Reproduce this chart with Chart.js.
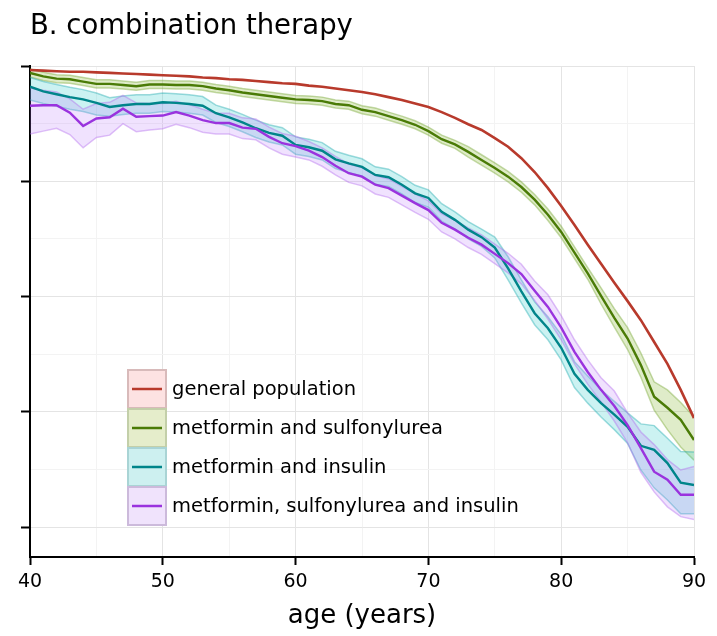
<!DOCTYPE html>
<html>
<head>
<meta charset="utf-8">
<title>combination therapy</title>
<script src="https://cdn.jsdelivr.net/npm/chart.js@4/dist/chart.umd.min.js"></script>
<style>
  html, body { margin: 0; padding: 0; background: #fff; }
  #wrap { width: 717px; height: 636px; }
</style>
</head>
<body>
<div id="wrap"><canvas id="c" width="717" height="636"></canvas></div>
<script>
// survival by age
const titleText = "B. combination therapy";
const xTitle = "age (years)";
const ages = [40,41,42,43,44,45,46,47,48,49,50,51,52,53,54,55,56,57,58,59,60,61,62,63,64,65,66,67,68,69,70,71,72,73,74,75,76,77,78,79,80,81,82,83,84,85,86,87,88,89,90];
const xTicks = [40,45,50,55,60,65,70,75,80,85,90];
const yTicks = [0.2,0.3,0.4,0.5,0.6,0.7,0.8,0.9,1.0];
const seriesNames = ["general population", "metformin and sulfonylurea", "metformin and insulin", "metformin, sulfonylurea and insulin"];

const generalPop = [0.993,0.992,0.991,0.990,0.990,0.989,0.988,0.987,0.986,0.985,0.984,0.983,0.982,0.980,0.979,0.977,0.976,0.974,0.972,0.970,0.969,0.966,0.964,0.961,0.958,0.955,0.951,0.946,0.941,0.935,0.929,0.920,0.910,0.899,0.889,0.875,0.860,0.840,0.816,0.788,0.757,0.724,0.690,0.657,0.624,0.592,0.559,0.521,0.483,0.438,0.389];

const metSulf = [0.988,0.982,0.978,0.977,0.973,0.969,0.969,0.967,0.965,0.968,0.968,0.967,0.967,0.965,0.961,0.958,0.954,0.951,0.948,0.945,0.942,0.941,0.939,0.934,0.932,0.924,0.920,0.913,0.906,0.898,0.887,0.873,0.864,0.851,0.837,0.823,0.808,0.790,0.768,0.742,0.712,0.676,0.640,0.601,0.563,0.527,0.481,0.426,0.407,0.386,0.351];
const metSulfHi = [0.007,0.007,0.007,0.007,0.007,0.007,0.007,0.007,0.007,0.007,0.007,0.007,0.007,0.007,0.007,0.007,0.007,0.007,0.007,0.007,0.007,0.007,0.007,0.007,0.007,0.007,0.007,0.007,0.007,0.007,0.007,0.007,0.007,0.009,0.009,0.009,0.009,0.009,0.009,0.010,0.010,0.010,0.010,0.014,0.016,0.019,0.021,0.026,0.031,0.030,0.040];
const metSulfLo = [0.007,0.007,0.007,0.007,0.007,0.007,0.007,0.007,0.007,0.007,0.007,0.007,0.007,0.007,0.007,0.007,0.007,0.007,0.007,0.007,0.007,0.007,0.007,0.007,0.007,0.007,0.007,0.007,0.007,0.007,0.007,0.007,0.007,0.009,0.009,0.009,0.009,0.009,0.009,0.010,0.010,0.010,0.010,0.014,0.016,0.019,0.021,0.023,0.038,0.047,0.035];

const metIns = [0.964,0.956,0.951,0.946,0.942,0.936,0.929,0.932,0.934,0.934,0.937,0.936,0.934,0.931,0.918,0.911,0.902,0.892,0.884,0.879,0.863,0.859,0.853,0.838,0.831,0.825,0.811,0.807,0.794,0.779,0.771,0.747,0.733,0.716,0.703,0.685,0.649,0.609,0.571,0.545,0.511,0.466,0.438,0.415,0.395,0.374,0.341,0.334,0.311,0.277,0.273];
const metInsHi = [0.016,0.017,0.017,0.017,0.017,0.017,0.016,0.016,0.016,0.016,0.016,0.016,0.016,0.016,0.014,0.014,0.014,0.014,0.014,0.014,0.014,0.014,0.014,0.014,0.014,0.014,0.014,0.014,0.014,0.014,0.014,0.014,0.014,0.014,0.014,0.018,0.020,0.020,0.020,0.020,0.023,0.021,0.024,0.023,0.023,0.024,0.038,0.042,0.043,0.054,0.057];
const metInsLo = [0.023,0.021,0.021,0.021,0.021,0.021,0.016,0.016,0.016,0.016,0.016,0.016,0.016,0.016,0.016,0.016,0.016,0.016,0.016,0.016,0.016,0.016,0.016,0.016,0.016,0.016,0.016,0.016,0.016,0.016,0.016,0.016,0.016,0.016,0.016,0.018,0.020,0.020,0.020,0.020,0.021,0.024,0.023,0.024,0.026,0.029,0.042,0.066,0.064,0.054,0.050];

const metSulfIns = [0.931,0.932,0.932,0.919,0.896,0.909,0.911,0.926,0.912,0.913,0.914,0.920,0.914,0.906,0.901,0.901,0.893,0.891,0.877,0.866,0.861,0.853,0.842,0.827,0.814,0.808,0.794,0.788,0.775,0.762,0.750,0.728,0.716,0.702,0.690,0.674,0.658,0.639,0.610,0.582,0.546,0.504,0.469,0.438,0.410,0.377,0.337,0.296,0.282,0.256,0.256];
const metSulfInsHi = [0.031,0.026,0.023,0.024,0.029,0.026,0.026,0.023,0.024,0.022,0.021,0.019,0.019,0.019,0.017,0.017,0.017,0.017,0.017,0.017,0.017,0.016,0.016,0.016,0.016,0.016,0.016,0.016,0.016,0.016,0.016,0.016,0.016,0.017,0.017,0.017,0.017,0.017,0.017,0.021,0.021,0.021,0.021,0.021,0.026,0.021,0.028,0.047,0.035,0.043,0.049];
const metSulfInsLo = [0.049,0.045,0.040,0.038,0.038,0.033,0.031,0.026,0.026,0.024,0.023,0.021,0.021,0.021,0.019,0.019,0.019,0.019,0.019,0.019,0.019,0.016,0.016,0.016,0.016,0.016,0.016,0.016,0.016,0.016,0.016,0.016,0.016,0.017,0.017,0.017,0.017,0.017,0.017,0.021,0.021,0.021,0.021,0.021,0.026,0.031,0.042,0.035,0.047,0.038,0.043];

const lineColors = ["#b83a2c", "#4a7b06", "#00858a", "#9a33de"];
const bandFill = ["", "rgba(140,185,60,0.28)", "rgba(50,205,205,0.25)", "rgba(185,125,250,0.22)"];
const bandEdge = ["", "rgba(110,160,40,0.40)", "rgba(30,170,175,0.42)", "rgba(175,100,235,0.40)"];
const keyFill = ["#fde2e2", "#e5edcb", "#cdf0f0", "#f0e3fc"];
const keyEdge = ["#d8baba", "#c3cfa9", "#a9d4d5", "#ccbadb"];

function pts(vals) {
  return ages.map((a, i) => ({ x: a, y: vals[i] }));
}
function shifted(vals, d, sign) {
  return ages.map((a, i) => ({ x: a, y: vals[i] + sign * d[i] }));
}

function lineSet(i, vals, order, width) {
  return { label: seriesNames[i], data: pts(vals), borderColor: lineColors[i], borderWidth: width,
           pointRadius: 0, fill: false, order: order };
}
function bandSet(i, vals, hi, lo, order) {
  return [
    { label: "hi" + i, data: shifted(vals, hi, 1), borderColor: bandEdge[i], borderWidth: 1.5,
      backgroundColor: bandFill[i], pointRadius: 0, fill: "+1", order: order },
    { label: "lo" + i, data: shifted(vals, lo, -1), borderColor: bandEdge[i], borderWidth: 1.5,
      pointRadius: 0, fill: false, order: order }
  ];
}

const datasets = [
  ...bandSet(1, metSulf, metSulfHi, metSulfLo, 9),
  ...bandSet(2, metIns, metInsHi, metInsLo, 8),
  ...bandSet(3, metSulfIns, metSulfInsHi, metSulfInsLo, 7),
  lineSet(0, generalPop, 4, 2.6),
  lineSet(1, metSulf, 3, 2.4),
  lineSet(2, metIns, 2, 2.4),
  lineSet(3, metSulfIns, 1, 2.4)
];

const isMajorX = v => v % 10 === 0;
const isMajorY = v => Math.round(v * 10) % 2 === 0;

// title + legend inside the plot
const decor = {
  id: "decor",
  afterDraw(chart) {
    const ctx = chart.ctx;
    ctx.save();
    ctx.fillStyle = "#000";
    ctx.font = '27.5px "DejaVu Sans"';
    ctx.textAlign = "left";
    ctx.textBaseline = "alphabetic";
    ctx.fillText(titleText, 30, 34);

    const bx = 128, by = 370, bw = 38, bh = 38, gap = 1;
    ctx.font = '19.5px "DejaVu Sans"';
    ctx.textBaseline = "middle";
    seriesNames.forEach((name, i) => {
      const y = by + i * (bh + gap);
      ctx.fillStyle = keyFill[i];
      ctx.fillRect(bx, y, bw, bh);
      ctx.strokeStyle = keyEdge[i];
      ctx.lineWidth = 2;
      ctx.strokeRect(bx, y, bw, bh);
      ctx.strokeStyle = lineColors[i];
      ctx.lineWidth = 2.5;
      ctx.beginPath();
      ctx.moveTo(bx + 4, y + bh / 2);
      ctx.lineTo(bx + bw - 4, y + bh / 2);
      ctx.stroke();
      ctx.fillStyle = "#000";
      ctx.fillText(name, bx + bw + 6, y + bh / 2 + 1);
    });
    ctx.restore();
  }
};

new Chart(document.getElementById("c"), {
  type: "line",
  data: { datasets: datasets },
  options: {
    responsive: false,
    devicePixelRatio: 1,
    animation: false,
    layout: { padding: { top: 66, right: 23, left: 0, bottom: 0 } },
    elements: { line: { tension: 0 } },
    plugins: { legend: { display: false }, tooltip: { enabled: false }, title: { display: false } },
    scales: {
      x: {
        type: "linear", min: 40, max: 90,
        afterBuildTicks(s) { s.ticks = xTicks.map(v => ({ value: v })); },
        afterFit(s) { s.height = 79; },
        border: { color: "#000", width: 2 },
        grid: {
          color: c => isMajorX(c.tick.value) ? "#e4e4e4" : "#f3f3f3",
          lineWidth: 1, tickLength: 8, tickWidth: 2,
          tickColor: c => isMajorX(c.tick.value) ? "#000" : "rgba(0,0,0,0)"
        },
        ticks: {
          autoSkip: false, maxRotation: 0, color: "#000", padding: 6,
          font: { family: "DejaVu Sans", size: 19 },
          callback: v => isMajorX(v) ? String(v) : ""
        },
        title: { display: true, text: xTitle, color: "#000",
                 font: { family: "DejaVu Sans", size: 26 }, padding: { top: 0, bottom: 4 } }
      },
      y: {
        type: "linear", min: 0.148, max: 1.0,
        afterBuildTicks(s) { s.ticks = yTicks.map(v => ({ value: v })); },
        afterFit(s) { s.width = 30; },
        border: { color: "#000", width: 2 },
        grid: {
          color: c => isMajorY(c.tick.value) ? "#e4e4e4" : "#f3f3f3",
          lineWidth: 1, tickLength: 9, tickWidth: 2,
          tickColor: c => isMajorY(c.tick.value) ? "#000" : "rgba(0,0,0,0)"
        },
        ticks: { display: true, callback: () => "" }
      }
    }
  },
  plugins: [decor]
});
</script>
</body>
</html>
